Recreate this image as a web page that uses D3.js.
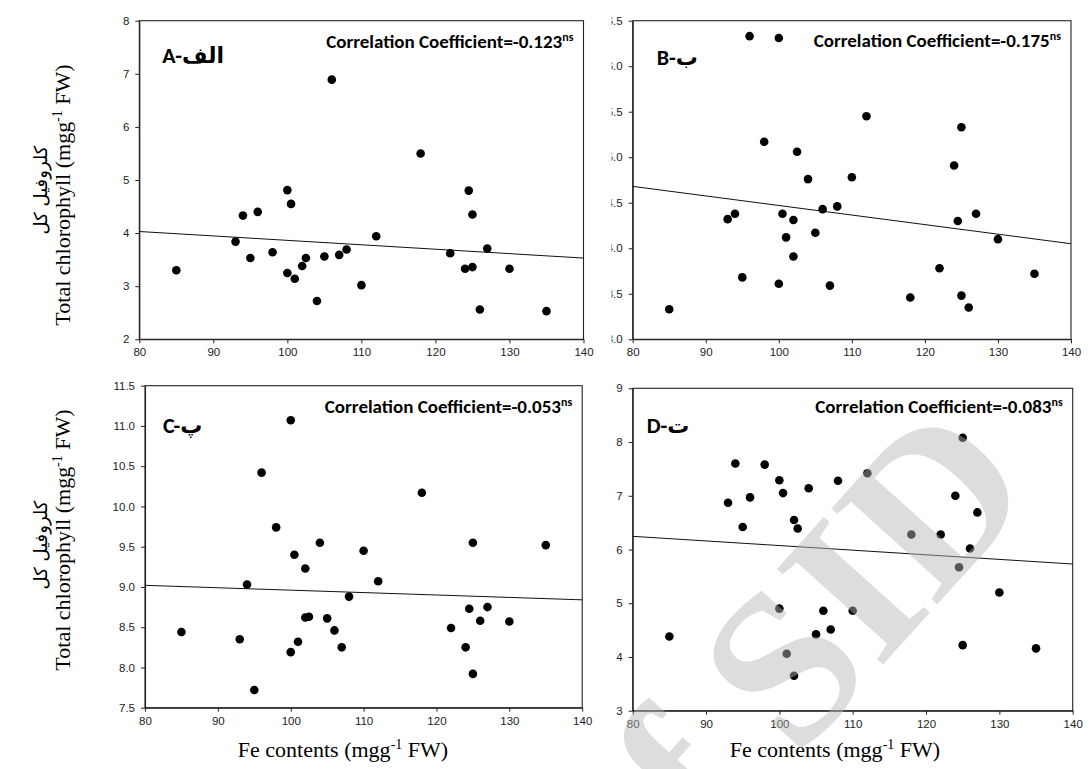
<!DOCTYPE html>
<html>
<head>
<meta charset="utf-8">
<script src="https://cdn.jsdelivr.net/npm/d3@7"></script>
<style>
  body { margin: 0; background: #fff; }
  svg { display: block; }
</style>
</head>
<body>
<div id="chart"></div>
<script>
// Fe contents (x) shared by panels B, C, D; panel A shows one point less
const feContents = [85, 93, 94, 95, 96, 98, 100, 100.5, 100, 101, 102, 102, 102.5, 104, 105, 106, 107, 108, 110, 112, 118, 122, 124, 124.5, 125, 125, 126, 127, 130, 135];
const feA = [85, 93, 94, 95, 96, 98, 100, 100.5, 100, 101, 102, 102.5, 104, 105, 106, 107, 108, 110, 112, 118, 122, 124, 124.5, 125, 125, 126, 127, 130, 135];

// Total chlorophyll per panel
const chlA = [3.30, 3.84, 4.33, 3.53, 4.40, 3.64, 4.81, 4.55, 3.25, 3.14, 3.38, 3.53, 2.72, 3.56, 6.89, 3.59, 3.69, 3.02, 3.94, 5.50, 3.62, 3.33, 4.80, 4.35, 3.36, 2.56, 3.71, 3.33, 2.53];
const chlB = [3.33, 4.32, 4.38, 3.68, 6.33, 5.17, 6.31, 4.38, 3.61, 4.12, 4.31, 3.91, 5.06, 4.76, 4.17, 4.43, 3.59, 4.46, 4.78, 5.45, 3.46, 3.78, 4.91, 4.30, 5.33, 3.48, 3.35, 4.38, 4.10, 3.72];
const chlC = [8.44, 8.35, 9.03, 7.72, 10.42, 9.74, 11.07, 9.40, 8.19, 8.32, 9.23, 8.62, 8.63, 9.55, 8.61, 8.46, 8.25, 8.88, 9.45, 9.07, 10.17, 8.49, 8.25, 8.73, 9.55, 7.92, 8.58, 8.75, 8.57, 9.52];
const chlD = [4.38, 6.87, 7.60, 6.42, 6.97, 7.58, 7.29, 7.05, 4.90, 4.06, 6.55, 3.65, 6.39, 7.14, 4.42, 4.86, 4.51, 7.28, 4.86, 7.42, 6.28, 6.28, 7.00, 5.67, 8.08, 4.22, 6.02, 6.69, 5.20, 4.16];

// Fitted line values at Fe = 80 and Fe = 140
const fitA = [4.03, 3.53];
const fitB = [4.68, 4.05];
const fitC = [9.02, 8.84];
const fitD = [6.245, 5.73];

// Axis ticks
const xTicks = [80, 90, 100, 110, 120, 130, 140];
const ticksA = [2, 3, 4, 5, 6, 7, 8];
const ticksB = [3.0, 3.5, 4.0, 4.5, 5.0, 5.5, 6.0, 6.5];
const ticksC = [7.5, 8.0, 8.5, 9.0, 9.5, 10.0, 10.5, 11.0, 11.5];
const ticksD = [3, 4, 5, 6, 7, 8, 9];

// Panel labels and correlation coefficients
const panelLabels = ["A-الف", "B-ب", "C-پ", "D-ت"];
const correlations = ["-0.123", "-0.175", "-0.053", "-0.083"];

const W = 1089, H = 769;
const svg = d3.select("#chart").append("svg")
  .attr("width", W).attr("height", H);

// plot boxes, label offsets
const layout = [
  { left: 139.3, right: 583.5, top: 20.7, bottom: 339.3, lx: 23, ly: 42, cy: 27, fmt: d3.format("d") },
  { left: 632.7, right: 1071, top: 20.7, bottom: 339.3, lx: 24, ly: 44, cy: 26, fmt: d3.format(".1f"), clip: 611.5 },
  { left: 145, right: 582.2, top: 385.7, bottom: 707.7, lx: 18, ly: 47, cy: 27, fmt: d3.format(".1f") },
  { left: 632.7, right: 1072.7, top: 388.3, bottom: 710.7, lx: 14, ly: 45, cy: 25, fmt: d3.format("d") }
];

const panels = [
  { fe: feA, chl: chlA, fit: fitA, ticks: ticksA },
  { fe: feContents, chl: chlB, fit: fitB, ticks: ticksB },
  { fe: feContents, chl: chlC, fit: fitC, ticks: ticksC },
  { fe: feContents, chl: chlD, fit: fitD, ticks: ticksD }
];

const tickFont = "'Liberation Sans', Arial, sans-serif";
const boldFont = "Carlito, Calibri, Lato, 'DejaVu Sans', sans-serif";
const serifFont = "'Liberation Serif', 'Times New Roman', 'DejaVu Sans', serif";

panels.forEach((p, i) => {
  const L = layout[i];
  const x = d3.scaleLinear().domain([80, 140]).range([L.left, L.right]);
  const y = d3.scaleLinear().domain(d3.extent(p.ticks)).range([L.bottom, L.top]);
  const g = svg.append("g").attr("class", "panel");

  // frame
  g.append("rect")
    .attr("x", L.left).attr("y", L.top)
    .attr("width", L.right - L.left).attr("height", L.bottom - L.top)
    .attr("fill", "none").attr("stroke", "#222").attr("stroke-width", 1.1);

  // x axis
  const xa = g.append("g")
    .attr("transform", `translate(0,${L.bottom})`)
    .call(d3.axisBottom(x).tickValues(xTicks).tickSize(4).tickSizeOuter(0).tickPadding(5));

  // y axis
  const ya = g.append("g")
    .attr("transform", `translate(${L.left},0)`)
    .call(d3.axisLeft(y).tickValues(p.ticks).tickFormat(L.fmt).tickSize(4).tickSizeOuter(0).tickPadding(6));

  [xa, ya].forEach(a => {
    a.select(".domain").attr("stroke", "#222").attr("stroke-width", 1.1);
    a.selectAll(".tick line").attr("stroke", "#222");
    a.selectAll(".tick text")
      .attr("fill", "#222")
      .style("font-family", tickFont)
      .style("font-size", "11.5px");
  });

  // panel B has its tick labels cut on the left (clip in the axis' own coordinates)
  if (L.clip) {
    svg.append("clipPath").attr("id", "clipB")
      .append("rect").attr("x", L.clip - L.left).attr("y", -10).attr("width", 60).attr("height", H);
    ya.attr("clip-path", "url(#clipB)");
  }

  // fitted line
  g.append("line")
    .attr("x1", x(80)).attr("y1", y(p.fit[0]))
    .attr("x2", x(140)).attr("y2", y(p.fit[1]))
    .attr("stroke", "#111").attr("stroke-width", 1);

  // points
  g.selectAll("circle")
    .data(p.fe.map((f, k) => ({ fe: f, chl: p.chl[k] })))
    .join("circle")
    .attr("cx", d => x(d.fe))
    .attr("cy", d => y(d.chl))
    .attr("r", 4.3)
    .attr("fill", "#000");

  // panel label
  g.append("text")
    .attr("x", L.left + L.lx).attr("y", L.top + L.ly)
    .attr("direction", "ltr")
    .style("font-family", boldFont)
    .style("font-weight", "bold")
    .style("font-size", "22px")
    .attr("fill", "#000")
    .text(panelLabels[i]);

  // correlation coefficient
  const ct = g.append("text")
    .attr("x", L.right - 10).attr("y", L.top + L.cy)
    .attr("text-anchor", "end")
    .style("font-family", boldFont)
    .style("font-weight", "bold")
    .style("font-size", "19px")
    .attr("fill", "#000");
  ct.append("tspan").text("Correlation Coefficient=" + correlations[i]);
  ct.append("tspan").attr("dy", -7).style("font-size", "12px").text("ns");
});

// axis titles
function unitTitle(sel, main) {
  sel.append("tspan").text(main + " (mgg");
  sel.append("tspan").attr("dy", -8).style("font-size", "14px").text("-1");
  sel.append("tspan").attr("dy", 8).text(" FW)");
}

[[195, 190], [540, 545]].forEach(([cyEn, cyFa]) => {
  svg.append("text")
    .attr("transform", `translate(47,${cyFa}) rotate(-90)`)
    .attr("text-anchor", "middle")
    .style("font-family", "'DejaVu Sans', sans-serif")
    .style("font-size", "18px")
    .attr("fill", "#000")
    .text("کلروفیل کل");
  const t = svg.append("text")
    .attr("transform", `translate(70,${cyEn}) rotate(-90)`)
    .attr("text-anchor", "middle")
    .style("font-family", serifFont)
    .style("font-size", "22px")
    .attr("fill", "#000");
  unitTitle(t, "Total chlorophyll");
});

[343, 835].forEach(cx => {
  const t = svg.append("text")
    .attr("x", cx).attr("y", 757)
    .attr("text-anchor", "middle")
    .style("font-family", serifFont)
    .style("font-size", "22px")
    .attr("fill", "#000");
  unitTitle(t, "Fe contents");
});

// watermark over the lower right panel
svg.append("text")
  .attr("transform", "translate(1040,490) rotate(-48)")
  .attr("text-anchor", "end")
  .style("font-family", serifFont)
  .style("font-weight", "bold")
  .style("font-size", "218px")
  .attr("fill", "rgb(182,182,182)")
  .attr("fill-opacity", 0.47)
  .text("Archive of SID");
</script>
</body>
</html>
